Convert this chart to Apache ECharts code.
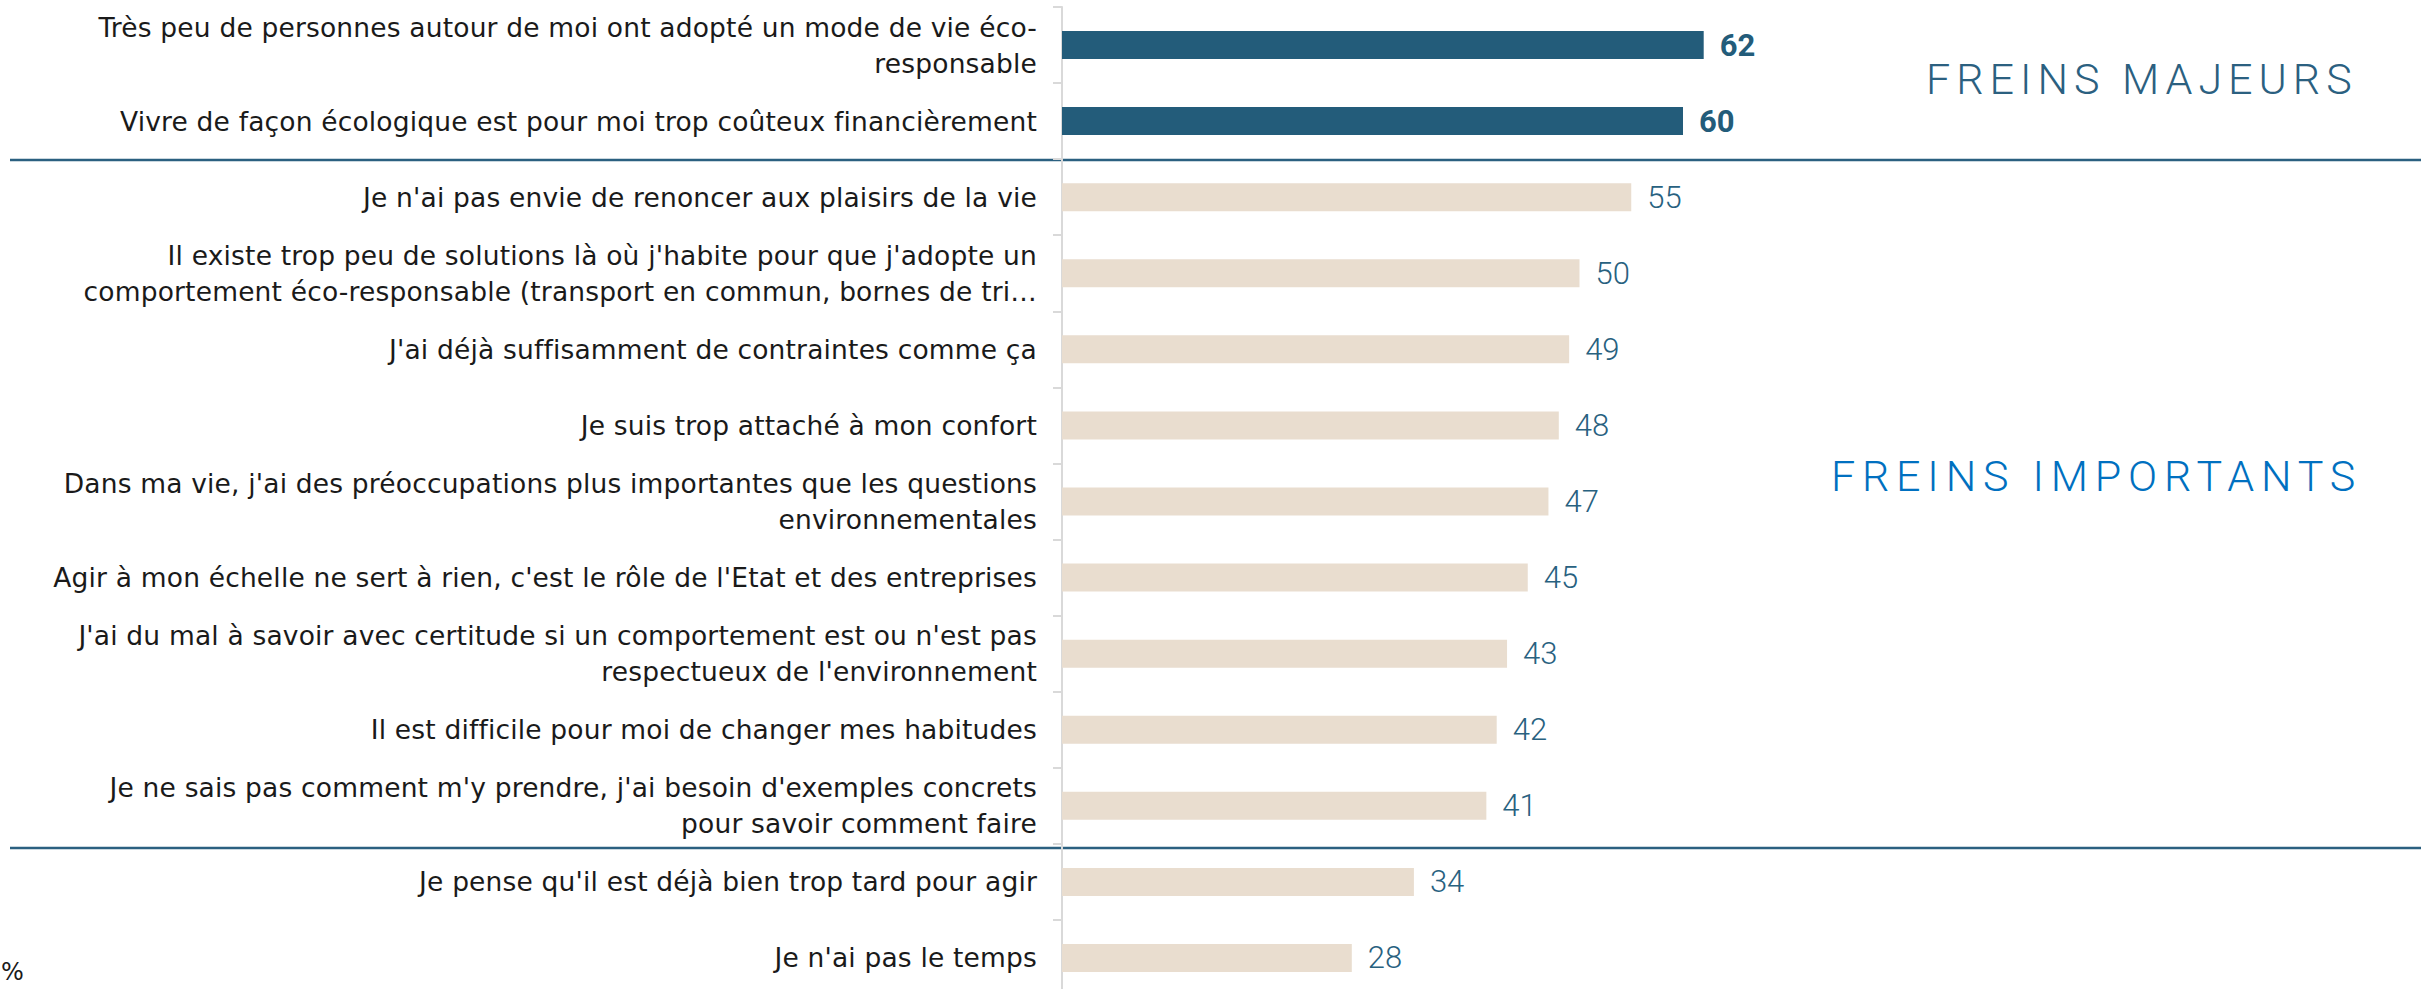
<!DOCTYPE html>
<html>
<head>
<meta charset="utf-8">
<script src="https://cdn.jsdelivr.net/npm/echarts@6/dist/echarts.min.js"></script>
<style>
html,body{margin:0;padding:0;background:#fff;}
#chart{width:2432px;height:989px;}
</style>
</head>
<body>
<div id="chart"></div>
<script>
const categories = [
  "Très peu de personnes autour de moi ont adopté un mode de vie éco-\nresponsable",
  "Vivre de façon écologique est pour moi trop coûteux financièrement",
  "Je n'ai pas envie de renoncer aux plaisirs de la vie",
  "Il existe trop peu de solutions là où j'habite pour que j'adopte un\ncomportement éco-responsable (transport en commun, bornes de tri…",
  "J'ai déjà suffisamment de contraintes comme ça",
  "Je suis trop attaché à mon confort",
  "Dans ma vie, j'ai des préoccupations plus importantes que les questions\nenvironnementales",
  "Agir à mon échelle ne sert à rien, c'est le rôle de l'Etat et des entreprises",
  "J'ai du mal à savoir avec certitude si un comportement est ou n'est pas\nrespectueux de l'environnement",
  "Il est difficile pour moi de changer mes habitudes",
  "Je ne sais pas comment m'y prendre, j'ai besoin d'exemples concrets\npour savoir comment faire",
  "Je pense qu'il est déjà bien trop tard pour agir",
  "Je n'ai pas le temps"
];
const values = [62, 60, 55, 50, 49, 48, 47, 45, 43, 42, 41, 34, 28];
const majorCount = 2;
const groupTitles = ["FREINS MAJEURS", "FREINS IMPORTANTS"];
const unitLabel = "%";

const chart = echarts.init(document.getElementById('chart'), null, {renderer: 'svg'});

const seriesData = values.map((v, i) => ({
  value: v,
  itemStyle: {color: i < majorCount ? '#235C7A' : '#E9DDCF'},
  label: i < majorCount
    ? {fontWeight: 'bold', color: '#235C7A'}
    : {fontWeight: 300, color: '#28617F'}
}));

const option = {
  animation: false,
  backgroundColor: '#ffffff',
  grid: {left: 1062, top: 7, width: 1035, height: 989, containLabel: false, outerBoundsMode: 'none'},
  xAxis: {type: 'value', min: 0, max: 100, show: false},
  yAxis: {
    type: 'category',
    data: categories,
    inverse: true,
    axisLine: {show: true, lineStyle: {color: '#D9D9D9', width: 2}},
    axisTick: {show: true, length: 9, lineStyle: {color: '#D9D9D9', width: 2}},
    splitLine: {show: false},
    axisLabel: {
      fontFamily: 'DejaVu Sans',
      fontSize: 26.5,
      color: '#1A1A1A',
      lineHeight: 36,
      margin: 25,
      align: 'right'
    }
  },
  series: [{
    type: 'bar',
    barWidth: 28,
    data: seriesData,
    label: {
      show: true,
      position: 'right',
      distance: 16,
      fontFamily: 'Roboto',
      fontSize: 31
    }
  }],
  graphic: [
    {type: 'line', shape: {x1: 10, y1: 160, x2: 2421, y2: 160}, style: {stroke: '#2B6080', lineWidth: 2.5}, silent: true},
    {type: 'line', shape: {x1: 10, y1: 848, x2: 2421, y2: 848}, style: {stroke: '#2B6080', lineWidth: 2.5}, silent: true},
    {type: 'text', x: 1926, y: 79, style: {text: groupTitles[0], fontFamily: 'Roboto', fontWeight: 300, fontSize: 43, fill: '#2B6080', align: 'left', verticalAlign: 'middle'}},
    {type: 'text', x: 1831, y: 476, style: {text: groupTitles[1], fontFamily: 'Roboto', fontWeight: 300, fontSize: 43, fill: '#0070C0', align: 'left', verticalAlign: 'middle'}},
    {type: 'text', x: 1, y: 972, style: {text: unitLabel, fontFamily: 'DejaVu Sans', fontSize: 24, fill: '#1A1A1A', align: 'left', verticalAlign: 'middle'}}
  ]
};
chart.setOption(option);

// letter spacing: wide for the group titles, slight for category labels
const catLines = [];
categories.forEach(c => c.split('\n').forEach(l => catLines.push(l)));
function applySpacing() {
  const texts = document.querySelectorAll('#chart svg text');
  texts.forEach(t => {
    const s = t.textContent;
    if (s === groupTitles[0]) t.setAttribute('letter-spacing', '6');
    else if (s === groupTitles[1]) t.setAttribute('letter-spacing', '6.8');
    else if (catLines.indexOf(s) >= 0) t.setAttribute('letter-spacing', '0.17');
  });
}
applySpacing();
chart.on('finished', applySpacing);
setTimeout(applySpacing, 50);
</script>
</body>
</html>
